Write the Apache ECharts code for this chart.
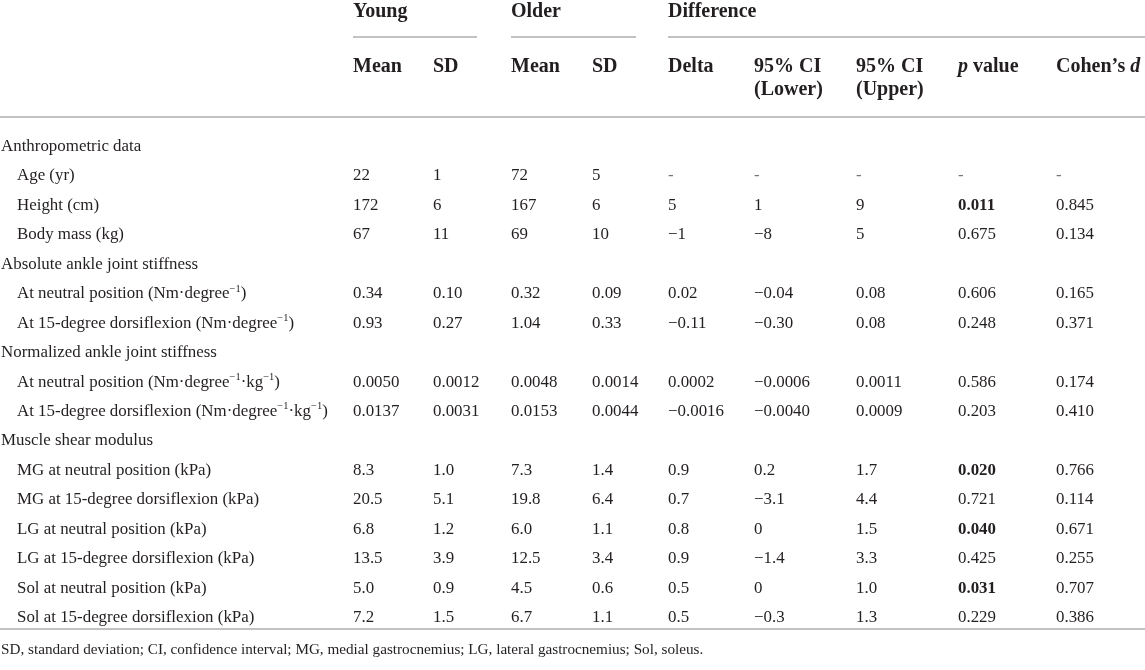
<!DOCTYPE html>
<html>
<head>
<meta charset="utf-8">
<script src="https://cdn.jsdelivr.net/npm/echarts@6/dist/echarts.min.js"></script>
<style>
  html, body { margin: 0; padding: 0; background: #fff; }
  #table { width: 1145px; height: 670px; }
</style>
</head>
<body>
<div id="table"></div>
<script>
// table content
var groups = ['Young', 'Older', 'Difference'];
var colHead1 = ['Mean', 'SD', 'Mean', 'SD', 'Delta', '95% CI', '95% CI', '{i|p} value', 'Cohen\u2019s {i|d}'];
var colHead2 = ['', '', '', '', '', '(Lower)', '(Upper)', '', ''];

var rowLabels = [
  'Anthropometric data',
  'Age (yr)',
  'Height (cm)',
  'Body mass (kg)',
  'Absolute ankle joint stiffness',
  'At neutral position (Nm\u00b7degree{s|\u22121})',
  'At 15-degree dorsiflexion (Nm\u00b7degree{s|\u22121})',
  'Normalized ankle joint stiffness',
  'At neutral position (Nm\u00b7degree{s|\u22121}\u00b7kg{s|\u22121})',
  'At 15-degree dorsiflexion (Nm\u00b7degree{s|\u22121}\u00b7kg{s|\u22121})',
  'Muscle shear modulus',
  'MG at neutral position (kPa)',
  'MG at 15-degree dorsiflexion (kPa)',
  'LG at neutral position (kPa)',
  'LG at 15-degree dorsiflexion (kPa)',
  'Sol at neutral position (kPa)',
  'Sol at 15-degree dorsiflexion (kPa)'
];
var rowLevel = [0, 1, 1, 1, 0, 1, 1, 0, 1, 1, 0, 1, 1, 1, 1, 1, 1];

var youngMean = [null, '22', '172', '67', null, '0.34', '0.93', null, '0.0050', '0.0137', null, '8.3', '20.5', '6.8', '13.5', '5.0', '7.2'];
var youngSD   = [null, '1', '6', '11', null, '0.10', '0.27', null, '0.0012', '0.0031', null, '1.0', '5.1', '1.2', '3.9', '0.9', '1.5'];
var olderMean = [null, '72', '167', '69', null, '0.32', '1.04', null, '0.0048', '0.0153', null, '7.3', '19.8', '6.0', '12.5', '4.5', '6.7'];
var olderSD   = [null, '5', '6', '10', null, '0.09', '0.33', null, '0.0014', '0.0044', null, '1.4', '6.4', '1.1', '3.4', '0.6', '1.1'];
var delta     = [null, '-', '5', '\u22121', null, '0.02', '\u22120.11', null, '0.0002', '\u22120.0016', null, '0.9', '0.7', '0.8', '0.9', '0.5', '0.5'];
var ciLower   = [null, '-', '1', '\u22128', null, '\u22120.04', '\u22120.30', null, '\u22120.0006', '\u22120.0040', null, '0.2', '\u22123.1', '0', '\u22121.4', '0', '\u22120.3'];
var ciUpper   = [null, '-', '9', '5', null, '0.08', '0.08', null, '0.0011', '0.0009', null, '1.7', '4.4', '1.5', '3.3', '1.0', '1.3'];
var pValue    = [null, '-', '0.011', '0.675', null, '0.606', '0.248', null, '0.586', '0.203', null, '0.020', '0.721', '0.040', '0.425', '0.031', '0.229'];
var cohenD    = [null, '-', '0.845', '0.134', null, '0.165', '0.371', null, '0.174', '0.410', null, '0.766', '0.114', '0.671', '0.255', '0.707', '0.386'];

var footnote = 'SD, standard deviation; CI, confidence interval; MG, medial gastrocnemius; LG, lateral gastrocnemius; Sol, soleus.';

// layout (pixels)
var W = 1145, H = 670;
var colX = [353, 433, 511, 592, 668, 754, 856, 958, 1056];
var groupSpan = [[353, 477], [511, 636], [668, 1145]];
var groupY = 11.5, ruleGroupY = 37, head1Y = 67, head2Y = 90, ruleHeadY = 117;
var rowY0 = 146.5, rowStep = 29.45, ruleBottomY = 629, footY = 650;
var indent = 17;

var FONT = "'Liberation Serif', 'DejaVu Serif', serif";
var INK = '#231f20';
var RULE = '#aeaeae';

var columns = [youngMean, youngSD, olderMean, olderSD, delta, ciLower, ciUpper, pValue, cohenD];

// build cells: kind h = header, b = body, f = footnote
var cells = [];
groups.forEach(function (g, i) {
  cells.push({ x: groupSpan[i][0], y: groupY, text: g, kind: 'h' });
});
colHead1.forEach(function (t, i) {
  cells.push({ x: colX[i], y: head1Y, text: t, kind: 'h' });
  if (colHead2[i]) cells.push({ x: colX[i], y: head2Y, text: colHead2[i], kind: 'h' });
});
rowLabels.forEach(function (lab, r) {
  var y = rowY0 + r * rowStep;
  cells.push({ x: rowLevel[r] ? indent : 1, y: y, text: lab, kind: 'b' });
  columns.forEach(function (col, c) {
    if (col[r] == null) return;
    var bold = col === pValue && parseFloat(col[r]) < 0.05;
    cells.push({ x: colX[c], y: y, text: col[r], kind: 'b', bold: bold, dash: col[r] === '-' });
  });
});
cells.push({ x: 1, y: footY, text: footnote, kind: 'f' });

var rules = [
  [groupSpan[0][0], ruleGroupY, groupSpan[0][1]],
  [groupSpan[1][0], ruleGroupY, groupSpan[1][1]],
  [groupSpan[2][0], ruleGroupY, groupSpan[2][1]],
  [0, ruleHeadY, W],
  [0, ruleBottomY, W]
];

var sizes = { h: 20, b: 16.9, f: 15.2 };

var chart = echarts.init(document.getElementById('table'));
var option = {
  animation: false,
  backgroundColor: '#fff',
  grid: { left: 0, right: 0, top: 0, bottom: 0 },
  xAxis: { type: 'value', min: 0, max: W, show: false },
  yAxis: { type: 'value', min: 0, max: H, inverse: true, show: false },
  series: [
    {
      type: 'custom',
      clip: false,
      data: rules,
      renderItem: function (params, api) {
        var a = api.coord([api.value(0), api.value(1)]);
        var b = api.coord([api.value(2), api.value(1)]);
        return {
          type: 'line',
          shape: { x1: a[0], y1: a[1], x2: b[0], y2: b[1] },
          style: { stroke: RULE, lineWidth: 1.6 }
        };
      }
    },
    {
      type: 'custom',
      clip: false,
      data: cells.map(function (c) { return [c.x, c.y]; }),
      renderItem: function (params, api) {
        var c = cells[params.dataIndex];
        var p = api.coord([api.value(0), api.value(1)]);
        var size = sizes[c.kind];
        var weight = (c.kind === 'h' || c.bold) ? 'bold' : 'normal';
        return {
          type: 'text',
          x: p[0],
          y: p[1],
          style: {
            text: c.text,
            fill: c.dash ? '#777' : INK,
            fontFamily: FONT,
            fontSize: size,
            fontWeight: weight,
            align: 'left',
            verticalAlign: 'middle',
            rich: {
              i: { fontFamily: FONT, fontSize: size, fontWeight: weight, fontStyle: 'italic', fill: INK },
              s: { fontFamily: FONT, fontSize: 10.5, fill: INK, verticalAlign: 'top', lineHeight: 21 }
            }
          }
        };
      }
    }
  ]
};
chart.setOption(option);
</script>
</body>
</html>
